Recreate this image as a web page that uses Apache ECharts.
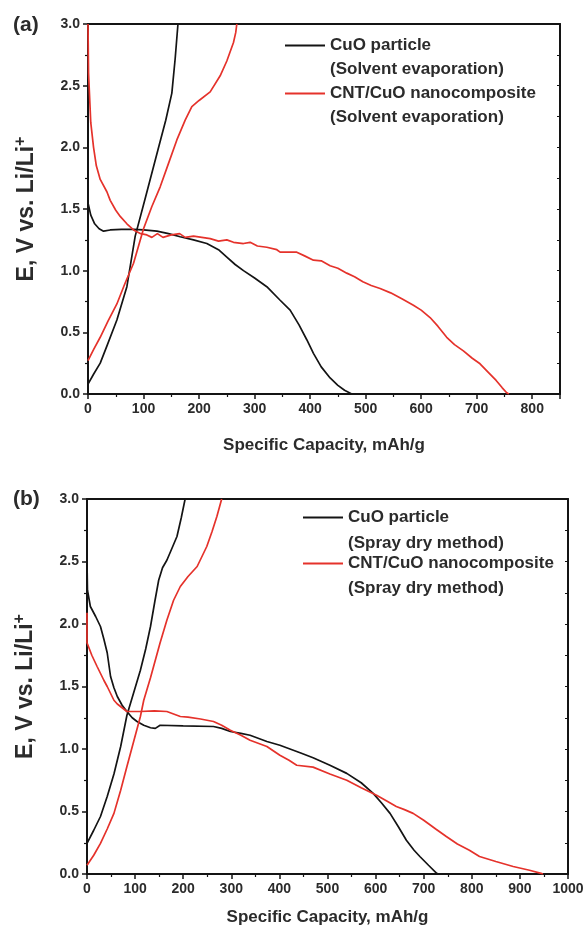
<!DOCTYPE html>
<html>
<head>
<meta charset="utf-8">
<script src="https://cdn.jsdelivr.net/npm/echarts@6/dist/echarts.min.js"></script>
<style>
  html, body { margin: 0; padding: 0; background: #fff; }
  #main { width: 587px; height: 936px; }
</style>
</head>
<body>
<div id="main"></div>
<script>
// capacity (mAh/g), voltage (V) pairs
// (a) solvent evaporation
var cuoDisA = [[0,1.55],[5,1.45],[12,1.38],[20,1.34],[28,1.32],[40,1.33],[60,1.335],[82,1.335],[100,1.33],[124,1.32],[145,1.30],[166,1.275],[190,1.25],[214,1.22],[235,1.17],[250,1.11],[265,1.05],[280,1.0],[300,0.94],[322,0.87],[346,0.76],[364,0.68],[380,0.56],[394,0.44],[406,0.33],[420,0.22],[436,0.13],[450,0.07],[462,0.03],[475,0]];
var cuoChgA = [[0,0.08],[10,0.16],[22,0.25],[35,0.40],[52,0.60],[70,0.87],[85,1.28],[105,1.62],[126,1.98],[140,2.22],[151,2.44],[157,2.72],[162,3.0]];
var cntDisA = [[0,3.0],[1,2.6],[2,2.5],[5,2.2],[10,2.0],[15,1.85],[22,1.74],[34,1.64],[40,1.57],[50,1.49],[58,1.44],[70,1.38],[82,1.33],[95,1.30],[106,1.29],[115,1.27],[125,1.30],[135,1.27],[150,1.29],[165,1.30],[175,1.27],[190,1.28],[205,1.27],[220,1.26],[235,1.24],[250,1.25],[262,1.23],[280,1.22],[292,1.23],[305,1.20],[322,1.19],[340,1.17],[346,1.15],[362,1.15],[376,1.15],[390,1.12],[406,1.085],[420,1.08],[436,1.04],[450,1.02],[466,0.98],[480,0.95],[495,0.91],[510,0.88],[526,0.855],[545,0.82],[566,0.77],[586,0.72],[600,0.68],[616,0.62],[630,0.55],[646,0.46],[660,0.40],[676,0.35],[692,0.29],[706,0.245],[720,0.18],[735,0.11],[746,0.05],[754,0.01],[758,0]];
var cntChgA = [[0,0.27],[10,0.36],[22,0.46],[36,0.59],[52,0.73],[66,0.89],[82,1.06],[100,1.34],[115,1.52],[130,1.68],[145,1.87],[160,2.06],[175,2.22],[187,2.33],[200,2.38],[220,2.45],[238,2.58],[250,2.70],[262,2.85],[266,2.93],[268,3.0]];

// (b) spray dry method
var cuoDisB = [[0,2.7],[0,2.5],[1,2.27],[7,2.14],[18,2.06],[28,1.98],[35,1.88],[42,1.77],[49,1.58],[56,1.49],[63,1.42],[73,1.35],[83,1.30],[94,1.25],[104,1.22],[118,1.19],[132,1.17],[142,1.165],[152,1.19],[200,1.185],[263,1.18],[280,1.165],[298,1.14],[320,1.125],[339,1.11],[374,1.06],[401,1.03],[443,0.97],[470,0.93],[505,0.87],[540,0.805],[570,0.73],[595,0.645],[612,0.57],[630,0.485],[647,0.38],[664,0.27],[680,0.19],[692,0.14],[710,0.07],[727,0.005],[730,0]];
var cuoChgB = [[0,0.245],[14,0.35],[28,0.46],[42,0.62],[56,0.80],[70,1.02],[83,1.27],[97,1.45],[111,1.63],[122,1.80],[132,1.98],[141,2.18],[149,2.35],[157,2.45],[166,2.51],[176,2.60],[187,2.70],[196,2.85],[204,3.0]];
var cntDisB = [[0,2.09],[0,1.85],[10,1.75],[21,1.66],[35,1.55],[42,1.50],[56,1.39],[63,1.36],[83,1.30],[111,1.30],[140,1.305],[166,1.30],[180,1.28],[194,1.26],[210,1.255],[236,1.24],[263,1.22],[280,1.19],[298,1.15],[320,1.11],[339,1.07],[374,1.02],[401,0.95],[420,0.91],[436,0.87],[470,0.855],[505,0.80],[540,0.75],[570,0.69],[602,0.63],[625,0.58],[643,0.54],[660,0.515],[678,0.485],[700,0.43],[725,0.36],[747,0.30],[770,0.24],[795,0.19],[816,0.14],[850,0.10],[886,0.06],[920,0.03],[944,0.005],[948,0]];
var cntChgB = [[0,0.07],[14,0.15],[28,0.245],[42,0.36],[56,0.485],[70,0.67],[83,0.86],[97,1.06],[111,1.26],[118,1.39],[132,1.57],[152,1.85],[166,2.03],[180,2.19],[194,2.30],[210,2.38],[229,2.46],[249,2.62],[260,2.74],[270,2.86],[280,3.0]];

var namesA = ['CuO particle (Solvent evaporation)', 'CNT/CuO nanocomposite (Solvent evaporation)'];
var namesB = ['CuO particle (Spray dry method)', 'CNT/CuO nanocomposite (Spray dry method)'];

var BLACK = '#141414', RED = '#e5322b', TXT = '#2b2b2b';
var FONT = '"Liberation Sans", Arial, sans-serif';

function line(name, data, color, gi) {
  return {
    name: name, type: 'line', data: data,
    xAxisIndex: gi * 2, yAxisIndex: gi * 2,
    symbol: 'none', showSymbol: false,
    lineStyle: { color: color, width: 1.7 },
    itemStyle: { color: color },
    animation: false
  };
}

function xMain(gi, max, gap) {
  return {
    type: 'value', gridIndex: gi, min: 0, max: max, interval: 100, position: 'bottom',
    axisLine: { onZero: false, lineStyle: { color: BLACK, width: 2 } },
    axisTick: { length: 5, lineStyle: { color: BLACK, width: 1.5 } },
    minorTick: { show: true, splitNumber: 2, length: 3, lineStyle: { color: BLACK, width: 1.2 } },
    splitLine: { show: false },
    axisLabel: { color: TXT, fontSize: 14, fontWeight: 'bold', fontFamily: FONT, margin: 8,
      showMaxLabel: max === 1000, formatter: function (v) { return String(v); } },
    name: 'Specific Capacity, mAh/g', nameLocation: 'middle', nameGap: gap,
    nameTextStyle: { color: TXT, fontSize: 17, fontWeight: 'bold', fontFamily: FONT }
  };
}
function xFrame(gi, max) {
  return {
    type: 'value', gridIndex: gi, min: 0, max: max, position: 'top',
    axisLine: { onZero: false, lineStyle: { color: BLACK, width: 2 } },
    axisTick: { show: false }, axisLabel: { show: false }, splitLine: { show: false }
  };
}
function yMain(gi) {
  return {
    type: 'value', gridIndex: gi, min: 0, max: 3, interval: 0.5, position: 'left',
    axisLine: { onZero: false, lineStyle: { color: BLACK, width: 2 } },
    axisTick: { length: 5, lineStyle: { color: BLACK, width: 1.5 } },
    minorTick: { show: true, splitNumber: 2, length: 3, lineStyle: { color: BLACK, width: 1.2 } },
    splitLine: { show: false },
    axisLabel: { color: TXT, fontSize: 14, fontWeight: 'bold', fontFamily: FONT, margin: 8,
      formatter: function (v) { return v.toFixed(1); } },
    name: '{t|E, V vs. Li/Li}{s|+}', nameLocation: 'middle', nameGap: 47,
    nameTextStyle: {
      rich: {
        t: { color: TXT, fontSize: 23, fontWeight: 'bold', fontFamily: FONT, lineHeight: 28 },
        s: { color: TXT, fontSize: 16, fontWeight: 'bold', fontFamily: FONT, lineHeight: 28, verticalAlign: 'top' }
      }
    }
  };
}
function yFrame(gi) {
  return {
    type: 'value', gridIndex: gi, min: 0, max: 3, interval: 0.25, position: 'right',
    axisLine: { onZero: false, lineStyle: { color: BLACK, width: 2 } },
    axisTick: { inside: true, length: 3, lineStyle: { color: BLACK, width: 1 } },
    axisLabel: { show: false }, splitLine: { show: false }
  };
}

function legendFor(names, left, top, gap) {
  return {
    orient: 'vertical', left: left, top: top, padding: 0,
    icon: 'rect', itemWidth: 40, itemHeight: 2, itemGap: gap,
    data: names, selectedMode: false,
    formatter: function (n) { return n.split(' (')[0]; },
    textStyle: { color: TXT, fontSize: 17, fontWeight: 'bold', fontFamily: FONT }
  };
}

function subLine(text, left, top) {
  return { type: 'text', left: left, top: top,
    style: { text: text, fill: TXT, font: 'bold 17px ' + FONT } };
}

var chart = echarts.init(document.getElementById('main'));
chart.setOption({
  backgroundColor: '#fff',
  animation: false,
  title: [
    { text: '(a)', left: 8, top: 10, textStyle: { color: TXT, fontSize: 21, fontWeight: 'bold', fontFamily: FONT } },
    { text: '(b)', left: 8, top: 484, textStyle: { color: TXT, fontSize: 21, fontWeight: 'bold', fontFamily: FONT } }
  ],
  grid: [
    { left: 88, right: 27, top: 24, bottom: 542, containLabel: false },
    { left: 87, right: 19, top: 499, bottom: 62, containLabel: false }
  ],
  xAxis: [xMain(0, 850, 43), xFrame(0, 850), xMain(1, 1000, 35), xFrame(1, 1000)],
  yAxis: [yMain(0), yFrame(0), yMain(1), yFrame(1)],
  legend: [
    legendFor(namesA, 285, 37, 31),
    legendFor(namesB, 303, 509, 29)
  ],
  graphic: [
    subLine('(Solvent evaporation)', 330, 61),
    subLine('(Solvent evaporation)', 330, 109),
    subLine('(Spray dry method)', 348, 535),
    subLine('(Spray dry method)', 348, 580)
  ],
  series: [
    line(namesA[0], cuoDisA, BLACK, 0),
    line(namesA[0], cuoChgA, BLACK, 0),
    line(namesA[1], cntDisA, RED, 0),
    line(namesA[1], cntChgA, RED, 0),
    line(namesB[0], cuoDisB, BLACK, 1),
    line(namesB[0], cuoChgB, BLACK, 1),
    line(namesB[1], cntDisB, RED, 1),
    line(namesB[1], cntChgB, RED, 1)
  ]
});
</script>
</body>
</html>
